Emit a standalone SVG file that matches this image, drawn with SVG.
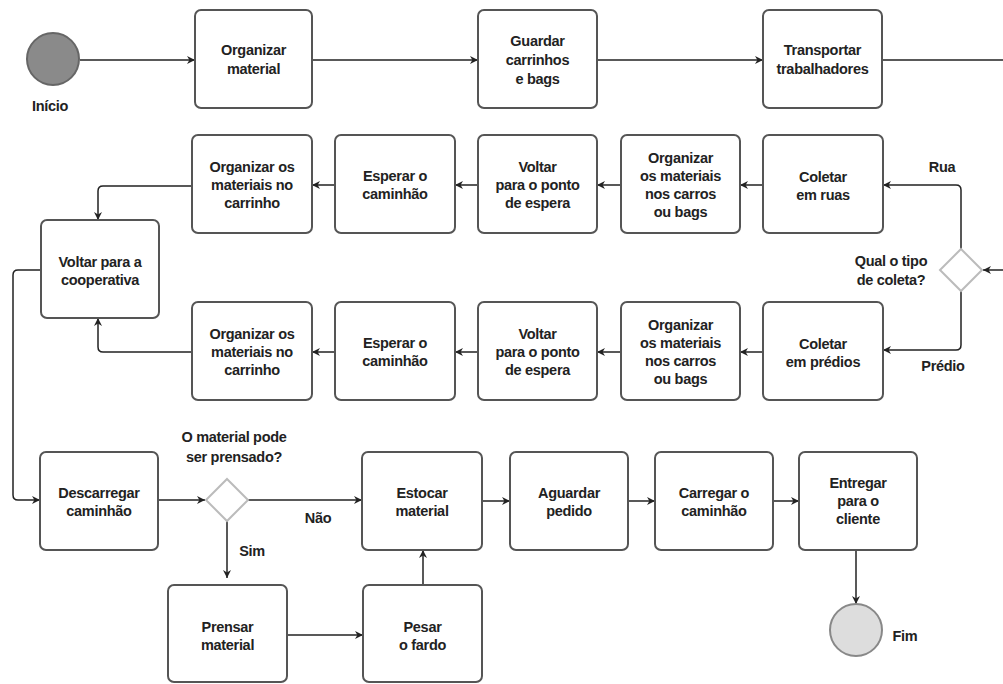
<svg xmlns="http://www.w3.org/2000/svg" width="1003" height="684" viewBox="0 0 1003 684">
<defs>
<marker id="arr" viewBox="0 0 10 10" refX="10" refY="5" markerWidth="8" markerHeight="8" markerUnits="userSpaceOnUse" orient="auto">
<path d="M0,0 L10,5 L0,10 L3,5 z" fill="#222"/>
</marker>
<style>
.box{fill:#fff;stroke:#555;stroke-width:2}
.dia{fill:#fff;stroke:#bbb;stroke-width:2}
.t{font-family:"Liberation Sans",Arial,sans-serif;font-weight:bold;font-size:14.5px;fill:#222;text-anchor:middle;letter-spacing:-0.3px}
.c{fill:none;stroke:#222;stroke-width:1.5;marker-end:url(#arr)}
.cn{fill:none;stroke:#222;stroke-width:1.5}
</style>
</defs>
<rect width="1003" height="684" fill="#fff"/>
<g id="connectors">
<path class="c" d="M80,60 H195"/>
<path class="c" d="M312,60 H478"/>
<path class="c" d="M597,60 H763"/>
<path class="cn" d="M882,60 H1003"/>
<path class="c" d="M1003,270 H983"/>
<path class="c" d="M961,249 V190 Q961,185 956,185 H883"/>
<path class="c" d="M961,291 V345 Q961,350 956,350 H883"/>
<path class="c" d="M763,185 H740"/>
<path class="c" d="M621,185 H597"/>
<path class="c" d="M478,185 H455"/>
<path class="c" d="M335,185 H312"/>
<path class="c" d="M192,186 H103 Q98,186 98,191 V220"/>
<path class="c" d="M763,352 H740"/>
<path class="c" d="M621,352 H597"/>
<path class="c" d="M478,352 H455"/>
<path class="c" d="M335,352 H312"/>
<path class="c" d="M192,352 H103 Q98,352 98,347 V318"/>
<path class="c" d="M41,270 H18 Q13,270 13,275 V495 Q13,500 18,500 H40"/>
<path class="c" d="M158,500 H205"/>
<path class="c" d="M248,500 H362"/>
<path class="c" d="M227,521 V578"/>
<path class="c" d="M287,635 H363"/>
<path class="c" d="M423,585 V550"/>
<path class="c" d="M482,501 H510"/>
<path class="c" d="M628,501 H655"/>
<path class="c" d="M773,501 H799"/>
<path class="c" d="M856,550 V604"/>
</g>
<g id="inicio">
<circle cx="53" cy="59" r="26" fill="#8a8a8a" stroke="#666" stroke-width="2"/>
<text class="t" x="50" y="111">Início</text>
</g>
<g id="n1"><rect class="box" x="195" y="10" width="117" height="98" rx="6"/>
<text class="t" x="253.5" y="55">Organizar</text><text class="t" x="253.5" y="74">material</text></g>
<g id="n2"><rect class="box" x="478" y="10" width="119" height="98" rx="6"/>
<text class="t" x="537.5" y="46">Guardar</text><text class="t" x="537.5" y="65">carrinhos</text><text class="t" x="537.5" y="84">e bags</text></g>
<g id="n3"><rect class="box" x="763" y="10" width="119" height="98" rx="6"/>
<text class="t" x="822.5" y="55">Transportar</text><text class="t" x="822.5" y="74">trabalhadores</text></g>
<g id="d1"><path class="dia" d="M961,249 L982,270 L961,291 L940,270 z"/>
<text class="t" x="891" y="266">Qual o tipo</text><text class="t" x="891" y="285">de coleta?</text>
<text class="t" x="942" y="172">Rua</text><text class="t" x="943" y="371">Prédio</text></g>
<g id="n4"><rect class="box" x="763" y="135" width="120" height="98" rx="6"/>
<text class="t" x="823" y="182">Coletar</text><text class="t" x="823" y="200">em ruas</text></g>
<g id="n5"><rect class="box" x="621" y="135" width="119" height="98" rx="6"/>
<text class="t" x="680.5" y="163">Organizar</text><text class="t" x="680.5" y="181">os materiais</text><text class="t" x="680.5" y="199">nos carros</text><text class="t" x="680.5" y="217">ou bags</text></g>
<g id="n6"><rect class="box" x="478" y="135" width="119" height="98" rx="6"/>
<text class="t" x="537.5" y="172">Voltar</text><text class="t" x="537.5" y="190">para o ponto</text><text class="t" x="537.5" y="208">de espera</text></g>
<g id="n7"><rect class="box" x="335" y="135" width="120" height="98" rx="6"/>
<text class="t" x="395" y="181">Esperar o</text><text class="t" x="395" y="199">caminhão</text></g>
<g id="n8"><rect class="box" x="192" y="135" width="120" height="98" rx="6"/>
<text class="t" x="252" y="172">Organizar os</text><text class="t" x="252" y="190">materiais no</text><text class="t" x="252" y="208">carrinho</text></g>
<g id="n9"><rect class="box" x="41" y="220" width="118" height="98" rx="6"/>
<text class="t" x="100" y="267">Voltar para a</text><text class="t" x="100" y="285">cooperativa</text></g>
<g id="n10"><rect class="box" x="763" y="302" width="120" height="98" rx="6"/>
<text class="t" x="823" y="349">Coletar</text><text class="t" x="823" y="367">em prédios</text></g>
<g id="n11"><rect class="box" x="621" y="302" width="119" height="98" rx="6"/>
<text class="t" x="680.5" y="330">Organizar</text><text class="t" x="680.5" y="348">os materiais</text><text class="t" x="680.5" y="366">nos carros</text><text class="t" x="680.5" y="384">ou bags</text></g>
<g id="n12"><rect class="box" x="478" y="302" width="119" height="98" rx="6"/>
<text class="t" x="537.5" y="339">Voltar</text><text class="t" x="537.5" y="357">para o ponto</text><text class="t" x="537.5" y="375">de espera</text></g>
<g id="n13"><rect class="box" x="335" y="302" width="120" height="98" rx="6"/>
<text class="t" x="395" y="348">Esperar o</text><text class="t" x="395" y="366">caminhão</text></g>
<g id="n14"><rect class="box" x="192" y="302" width="120" height="98" rx="6"/>
<text class="t" x="252" y="339">Organizar os</text><text class="t" x="252" y="357">materiais no</text><text class="t" x="252" y="375">carrinho</text></g>
<g id="n15"><rect class="box" x="40" y="452" width="118" height="98" rx="6"/>
<text class="t" x="99" y="498">Descarregar</text><text class="t" x="99" y="516">caminhão</text></g>
<g id="d2"><path class="dia" d="M227,479 L248,500 L227,521 L206,500 z"/>
<text class="t" x="234" y="442">O material pode</text><text class="t" x="234" y="462">ser prensado?</text>
<text class="t" x="318" y="523">Não</text><text class="t" x="252" y="556">Sim</text></g>
<g id="n16"><rect class="box" x="362" y="452" width="120" height="98" rx="6"/>
<text class="t" x="422" y="498">Estocar</text><text class="t" x="422" y="516">material</text></g>
<g id="n17"><rect class="box" x="510" y="452" width="118" height="98" rx="6"/>
<text class="t" x="569" y="498">Aguardar</text><text class="t" x="569" y="516">pedido</text></g>
<g id="n18"><rect class="box" x="655" y="452" width="118" height="98" rx="6"/>
<text class="t" x="714" y="498">Carregar o</text><text class="t" x="714" y="516">caminhão</text></g>
<g id="n19"><rect class="box" x="799" y="452" width="118" height="98" rx="6"/>
<text class="t" x="858" y="488">Entregar</text><text class="t" x="858" y="506">para o</text><text class="t" x="858" y="524">cliente</text></g>
<g id="n20"><rect class="box" x="168" y="585" width="119" height="97" rx="6"/>
<text class="t" x="227.5" y="632">Prensar</text><text class="t" x="227.5" y="650">material</text></g>
<g id="n21"><rect class="box" x="363" y="585" width="119" height="97" rx="6"/>
<text class="t" x="422.5" y="632">Pesar</text><text class="t" x="422.5" y="650">o fardo</text></g>
<g id="fim">
<circle cx="856" cy="630" r="26" fill="#ddd" stroke="#888" stroke-width="2"/>
<text class="t" x="905" y="641">Fim</text>
</g>
</svg>
